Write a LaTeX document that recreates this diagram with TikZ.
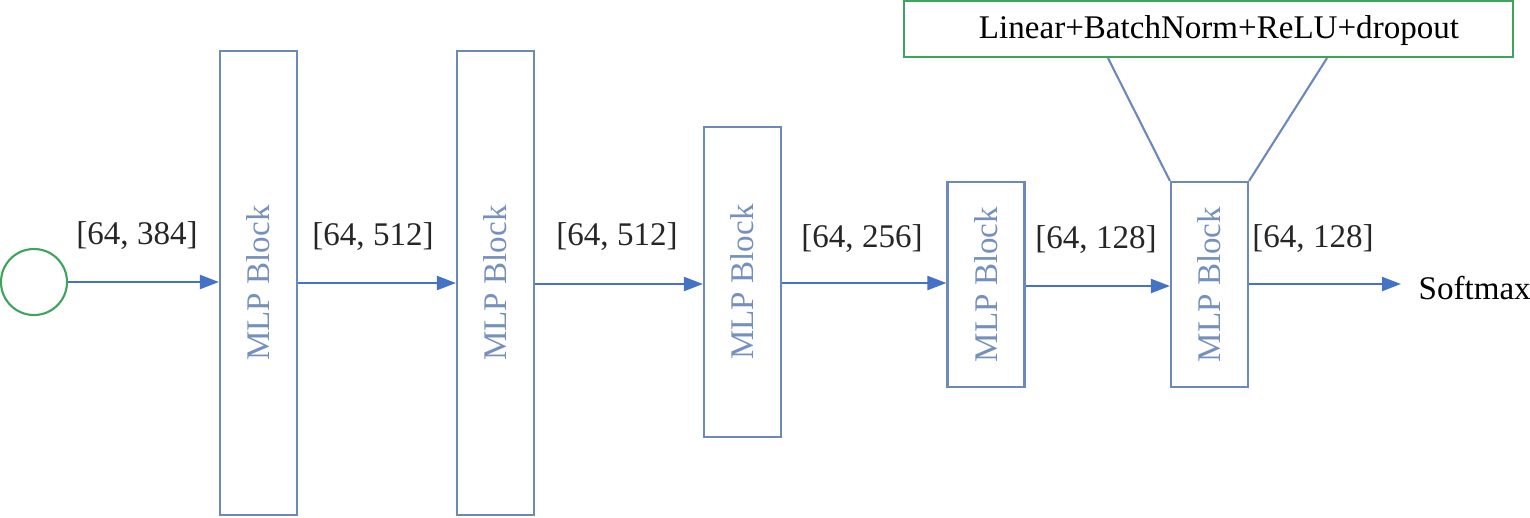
\documentclass[tikz,border=0pt]{standalone}
\usepackage{fontspec}
\setmainfont{Liberation Serif}
\usetikzlibrary{arrows.meta}
\definecolor{arrowblue}{HTML}{4472C4}
\definecolor{boxblue}{HTML}{6C89B9}
\definecolor{textblue}{HTML}{7690BE}
\definecolor{ringgreen}{HTML}{3DA35D}
\tikzset{
  mlpbox/.style={draw=boxblue, line width=0.6pt, minimum width=0.77cm, inner sep=0pt},
  flow/.style={arrowblue, line width=0.6pt, -{Triangle[length=0.19cm, width=0.14cm]}},
  dimlabel/.style={text=black!85, font=\fontsize{9.4}{11}\selectfont, inner sep=0pt}
}
\newcommand{\mlptext}{\rotatebox{90}{\textcolor{textblue}{\fontsize{9.4}{11}\selectfont MLP Block}}}
\begin{document}
\begin{tikzpicture}[x=0.01cm, y=-0.01cm]
\useasboundingbox (0,0) rectangle (1530,517);
% input and blocks
\node[draw=ringgreen, line width=0.6pt, circle, minimum size=0.66cm, inner sep=0pt] (input) at (34,282) {};
\node[mlpbox, minimum height=4.64cm] (blockA) at (258.5,283) {\mlptext};
\node[mlpbox, minimum height=4.64cm] (blockB) at (495.5,283) {\mlptext};
\node[mlpbox, minimum height=3.10cm] (blockC) at (742.5,282) {\mlptext};
\node[mlpbox, minimum height=2.05cm] (blockD) at (986,284.5) {\mlptext};
\node[mlpbox, minimum height=2.05cm] (blockE) at (1209.5,284.5) {\mlptext};
% detail box
\node[draw=ringgreen, line width=0.6pt, minimum width=6.09cm, minimum height=0.56cm, inner sep=0pt] (detail) at (1208.5,29) {};
\node[dimlabel, text=black] (detailtext) at (1219,31) {Linear+BatchNorm+ReLU+dropout};
\draw[boxblue, line width=0.6pt] (blockE.north west) -- (detail.south -| 1108,0);
\draw[boxblue, line width=0.6pt] (blockE.north east) -- (detail.south -| 1327,0);
\coordinate (softend) at (1401,284);
\node[dimlabel, anchor=west, text=black] (softmax) at (1418,288) {Softmax};
% connectors
\draw[flow] (input) -- (blockA.west |- input);
\draw[flow] (blockA.east |- 0,283) -- (blockB.west |- 0,283);
\draw[flow] (blockB.east |- 0,284) -- (blockC.west |- 0,284);
\draw[flow] (blockC.east |- 0,283) -- (blockD.west |- 0,283);
\draw[flow] (blockD.east |- 0,286) -- (blockE.west |- 0,286);
\draw[flow] (blockE.east |- softend) -- (softend);
% labels
\node[dimlabel] (dimA) at (137,236) {[64, 384]};
\node[dimlabel] (dimB) at (373,237) {[64, 512]};
\node[dimlabel] (dimC) at (617,237) {[64, 512]};
\node[dimlabel] (dimD) at (862,239) {[64, 256]};
\node[dimlabel] (dimE) at (1096,240) {[64, 128]};
\node[dimlabel] (dimF) at (1313,239) {[64, 128]};
\end{tikzpicture}
\end{document}
